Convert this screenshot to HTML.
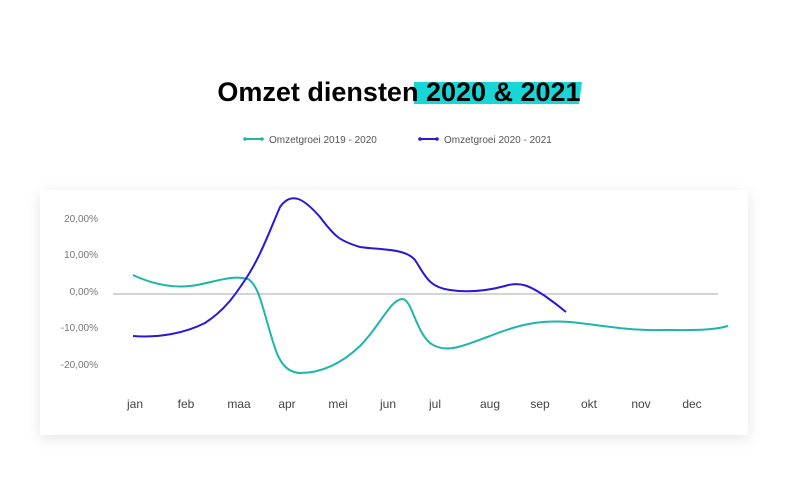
<!DOCTYPE html>
<html><head><style>
body{margin:0;width:788px;height:500px;background:#fff;font-family:"Liberation Sans",sans-serif;position:relative;overflow:hidden}
.card{position:absolute;left:40px;top:190px;width:708px;height:245px;background:#fff;box-shadow:0 4px 14px rgba(0,0,0,0.10)}
svg{position:absolute;left:0;top:0}
</style></head><body>
<div class="card"></div>
<svg width="788" height="500">
<path d="M414 82 L582 82 L579 104 L414 104 Z" fill="#19d6d6"/>
<text x="399" y="101" text-anchor="middle" font-family="Liberation Sans" font-weight="bold" font-size="27" fill="#000" letter-spacing="0">Omzet diensten 2020 &amp; 2021</text>
<line x1="245" y1="139" x2="262" y2="139" stroke="#1fb5a8" stroke-width="2"/><circle cx="245" cy="139" r="1.8" fill="#1fb5a8"/><circle cx="262" cy="139" r="1.8" fill="#1fb5a8"/>
<text x="269" y="143" font-size="10" fill="#555">Omzetgroei 2019 - 2020</text>
<line x1="420" y1="139" x2="437" y2="139" stroke="#2a18d8" stroke-width="2"/><circle cx="420" cy="139" r="1.8" fill="#2a18d8"/><circle cx="437" cy="139" r="1.8" fill="#2a18d8"/>
<text x="444" y="143" font-size="10" fill="#555">Omzetgroei 2020 - 2021</text>
<g font-size="10" fill="#777" text-anchor="end">
<text x="98" y="222">20,00%</text><text x="98" y="258">10,00%</text><text x="98" y="295">0,00%</text><text x="98" y="331">-10,00%</text><text x="98" y="368">-20,00%</text>
</g>
<line x1="113" y1="294" x2="718" y2="294" stroke="#aaa" stroke-width="1"/>
<g font-size="12" fill="#444" text-anchor="middle">
<text x="135" y="408">jan</text><text x="186" y="408">feb</text><text x="239" y="408">maa</text><text x="287" y="408">apr</text><text x="338" y="408">mei</text><text x="388" y="408">jun</text><text x="435" y="408">jul</text><text x="490" y="408">aug</text><text x="540" y="408">sep</text><text x="589" y="408">okt</text><text x="641" y="408">nov</text><text x="692" y="408">dec</text>
</g>
<path d="M133 275 C150 283 170 288 190 286 C210 284 230 274 248 279 C258 285 262 305 268 325 C276 352 280 372 300 373 C320 373 340 365 360 346 C380 326 390 300 402 299 C412 299 415 330 430 343 C445 354 460 347 490 336 C520 324 540 320 570 322 C600 325 630 331 660 330 C690 330 710 331 728 326" fill="none" stroke="#1fb5a8" stroke-width="2"/>
<path d="M133 336 C160 338 185 333 205 323 C225 310 235 295 245 280 C260 258 270 230 280 207 C292 190 305 200 320 217 C335 237 340 241 360 247 C380 250 405 248 415 260 C425 275 428 287 450 290 C470 293 490 290 505 286 C520 281 530 286 545 296 C555 303 560 307 566 312" fill="none" stroke="#2a18d8" stroke-width="2"/>
</svg>
</body></html>
